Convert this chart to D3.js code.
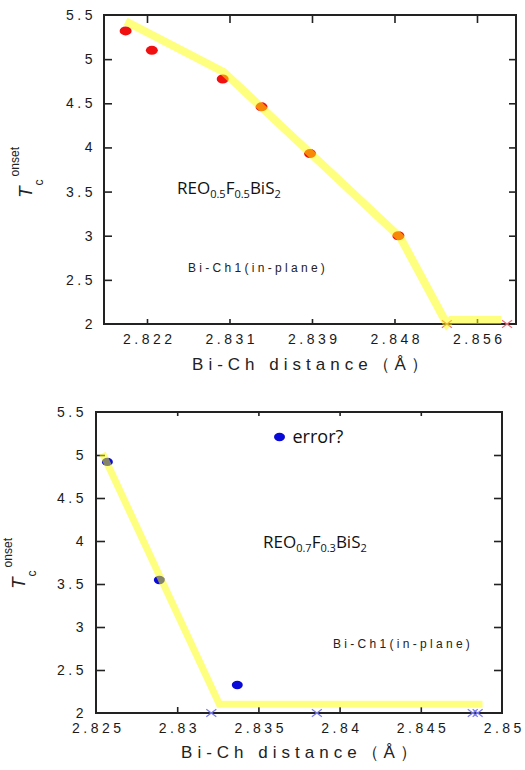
<!DOCTYPE html>
<html><head><meta charset="utf-8">
<script src="https://cdn.jsdelivr.net/npm/d3@7"></script>
<style>
html,body{margin:0;padding:0;background:#fff;}
svg{display:block;}
</style></head>
<body>
<script>
// ---------- data ----------
const yTickValues = [2, 2.5, 3, 3.5, 4, 4.5, 5, 5.5];
const yTickLabels = ["2", "2.5", "3", "3.5", "4", "4.5", "5", "5.5"];

// top panel: REO0.5F0.5BiS2
const topXTicks = [2.822, 2.8305, 2.839, 2.8475, 2.856];
const topXLabels = ["2.822", "2.831", "2.839", "2.848", "2.856"];
const topPtX = [2.8198, 2.8225, 2.8298, 2.8338, 2.8388, 2.8479];
const topPtY = [5.32, 5.10, 4.775, 4.46, 3.93, 3.0];
const topLineX = [2.8198, 2.8299, 2.8481, 2.8529, 2.8533, 2.8585];
const topLineY = [5.43, 4.855, 2.98, 2.0, 2.045, 2.045];
const topCrossX = [2.8529, 2.8591];
const topCrossY = [2.0, 2.0];

// bottom panel: REO0.7F0.3BiS2
const botXTicks = [2.825, 2.83, 2.835, 2.84, 2.845, 2.85];
const botXLabels = ["2.825", "2.83", "2.835", "2.84", "2.845", "2.85"];
const botPtX = [2.8257, 2.8289, 2.8337];
const botPtY = [4.92, 3.547, 2.325];
const botErrX = [2.8363];
const botErrY = [5.21];
const botLineX = [2.8254, 2.8326, 2.8488];
const botLineY = [5.02, 2.101, 2.101];
const botCrossX = [2.8321, 2.8386, 2.8482, 2.8485];
const botCrossY = [2, 2, 2, 2];

// ---------- drawing ----------
const W = 525, H = 770;
const svg = d3.select("body").append("svg").attr("width", W).attr("height", H);
const tickFont = "'Liberation Sans', Arial, sans-serif";
const labFont = "'Open Sans', 'Noto Sans', sans-serif";

function panel(cfg) {
  const x = d3.scaleLinear().domain(cfg.xDomain).range([cfg.left, cfg.right]);
  const y = d3.scaleLinear().domain([2, 5.5]).range([cfg.bottom, cfg.top]);
  const g = svg.append("g");

  // axes (inward ticks)
  const ax = d3.axisBottom(x).tickValues(cfg.xTicks)
    .tickFormat((d, i) => cfg.xLabels[i]).tickSize(-cfg.tBot).tickPadding(10);
  const gb = g.append("g").attr("transform", `translate(0,${cfg.bottom})`).call(ax);
  const axT = d3.axisTop(x).tickValues(cfg.xTicks.filter(v => x(v) > cfg.left + 2 && x(v) < cfg.right - 2))
    .tickFormat("").tickSize(-cfg.tTop);
  const gt = g.append("g").attr("transform", `translate(0,${cfg.top})`).call(axT);
  const ay = d3.axisLeft(y).tickValues(yTickValues)
    .tickFormat((d, i) => yTickLabels[i]).tickSize(-cfg.tLeft).tickPadding(cfg.yPad);
  const gl = g.append("g").attr("transform", `translate(${cfg.left},0)`).call(ay);
  const ayR = d3.axisRight(y).tickValues(yTickValues.slice(1, -1)).tickFormat("").tickSize(-cfg.tRight);
  const gr = g.append("g").attr("transform", `translate(${cfg.right},0)`).call(ayR);
  [gb, gt, gl, gr].forEach(a => {
    a.select(".domain").remove();
    a.selectAll(".tick line").attr("stroke", "#222").attr("stroke-width", 1.6);
    a.selectAll("text").attr("fill", "#1a1a1a").style("font-family", tickFont)
      .style("font-size", "14px").style("letter-spacing", "3.5px");
  });
  gb.selectAll(".tick text").attr("dx", "1.75");
  gb.selectAll(".tick").filter(d => x(d) <= cfg.left + 1 || x(d) >= cfg.right - 1).select("line").remove();
  gl.selectAll(".tick").filter(d => d === 2 || d === 5.5).select("line").remove();

  // frame
  g.append("rect").attr("x", cfg.left).attr("y", cfg.top)
    .attr("width", cfg.right - cfg.left).attr("height", cfg.bottom - cfg.top)
    .attr("fill", "none").attr("stroke", "#222").attr("stroke-width", 2);

  // points
  g.selectAll(null).data(cfg.ptX.map((v, i) => [v, cfg.ptY[i]])).enter()
    .append("ellipse").attr("cx", d => x(d[0])).attr("cy", d => y(d[1]))
    .attr("rx", cfg.rx).attr("ry", cfg.ry).attr("fill", cfg.ptColor);
  if (cfg.errX) {
    g.selectAll(null).data(cfg.errX.map((v, i) => [v, cfg.errY[i]])).enter()
      .append("ellipse").attr("cx", d => x(d[0])).attr("cy", d => y(d[1]))
      .attr("rx", cfg.rx).attr("ry", cfg.ry).attr("fill", cfg.ptColor);
    g.append("text").attr("x", x(cfg.errX[0]) + 13).attr("y", y(cfg.errY[0]) + 6)
      .style("font-family", labFont).style("font-size", "18px").attr("fill", "#111").text("error?");
  }

  // crosses
  const cs = 5;
  cfg.crossX.forEach((v, i) => {
    const cx = x(v), cy = y(cfg.crossY[i]);
    g.append("path").attr("d", `M${cx - cs},${cy - cs * 0.75}L${cx + cs},${cy + cs * 0.75}M${cx - cs},${cy + cs * 0.75}L${cx + cs},${cy - cs * 0.75}`)
      .attr("stroke", cfg.crossColor).attr("stroke-width", 1.2).attr("fill", "none");
  });

  // yellow guide line (semi-transparent, over the points)
  const line = d3.line().x(d => x(d[0])).y(d => y(d[1]));
  g.append("path").datum(cfg.lineX.map((v, i) => [v, cfg.lineY[i]]))
    .attr("d", line).attr("fill", "none").attr("stroke", "#ffff00")
    .attr("stroke-opacity", 0.5).attr("stroke-width", cfg.lw).attr("stroke-linejoin", "miter");

  // compound label
  const t = g.append("text").attr("x", cfg.cmpX).attr("y", cfg.cmpY)
    .style("font-family", labFont).style("font-size", "17px").attr("fill", "#111");
  cfg.cmp.forEach(p => {
    const s = t.append("tspan").text(p[0]);
    if (p[1]) s.style("font-size", "11px").attr("dy", 4);
    else s.attr("dy", p[2] || 0);
  });

  // Bi-Ch1 label
  g.append("text").attr("x", cfg.bcX).attr("y", cfg.bcY)
    .style("font-family", tickFont).style("font-size", "12px").style("letter-spacing", "3.3px")
    .attr("fill", "#222").text("Bi-Ch1(in-plane)");

  // x axis title
  g.append("text").attr("x", (cfg.left + cfg.right) / 2 + 2.5).attr("y", cfg.xTitleY)
    .attr("text-anchor", "middle").style("font-family", tickFont).style("font-size", "17px")
    .style("letter-spacing", "5px").attr("fill", "#222").text("Bi-Ch distance（Å）");

  // y axis title
  const yt = g.append("text").attr("transform", `translate(${cfg.ytX},${cfg.ytY}) rotate(-90)`)
    .style("font-family", tickFont).attr("fill", "#222");
  yt.append("tspan").text("T").style("font-style", "italic").style("font-size", "19px");
  yt.append("tspan").text("c").style("font-size", "12px").attr("dx", 1).attr("dy", 11);
  yt.append("tspan").text("onset").style("font-size", "12px").attr("dx", 3).attr("dy", -24);
}

panel({
  xDomain: [2.81757, 2.86002], left: 104, right: 516, top: 15, bottom: 324,
  xTicks: topXTicks, xLabels: topXLabels, tBot: 5, tTop: 8, tLeft: 8, tRight: 7, yPad: 8,
  ptX: topPtX, ptY: topPtY, ptColor: "#f01010", rx: 6, ry: 4.5,
  crossX: topCrossX, crossY: topCrossY, crossColor: "#e8707a",
  lineX: topLineX, lineY: topLineY, lw: 8,
  cmp: [["REO"], ["0.5", 1], ["F", 0, -4], ["0.5", 1], ["BiS", 0, -4], ["2", 1]],
  cmpX: 177, cmpY: 194, bcX: 188, bcY: 272, xTitleY: 370, ytX: 32, ytY: 198
});

panel({
  xDomain: [2.825, 2.85], left: 96, right: 502, top: 412, bottom: 713,
  xTicks: botXTicks, xLabels: botXLabels, tBot: 6, tTop: 4, tLeft: 9, tRight: 8, yPad: 9,
  ptX: botPtX, ptY: botPtY, ptColor: "#0a0ad8", rx: 5.5, ry: 4.2,
  errX: botErrX, errY: botErrY,
  crossX: botCrossX, crossY: botCrossY, crossColor: "#7a7af0",
  lineX: botLineX, lineY: botLineY, lw: 7,
  cmp: [["REO"], ["0.7", 1], ["F", 0, -4], ["0.3", 1], ["BiS", 0, -4], ["2", 1]],
  cmpX: 263, cmpY: 548, bcX: 333, bcY: 648, xTitleY: 758, ytX: 25, ytY: 589
});
</script>
</body></html>
